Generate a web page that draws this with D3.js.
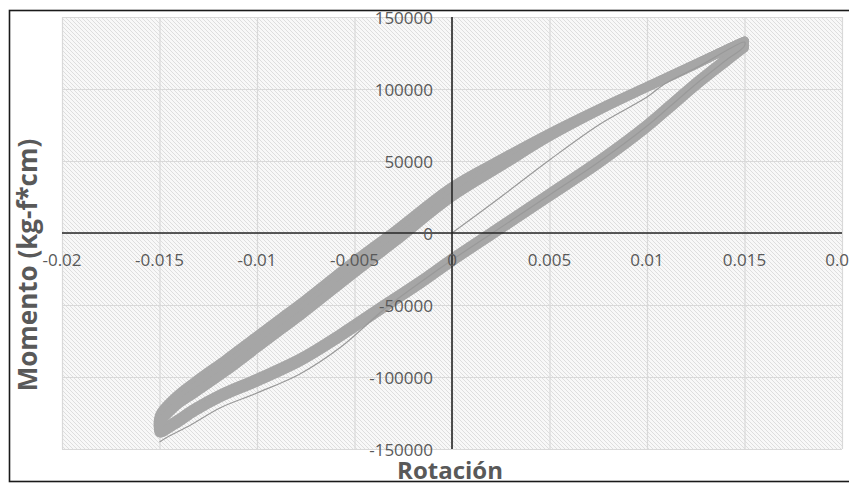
<!DOCTYPE html>
<html>
<head>
<meta charset="utf-8">
<script src="https://cdn.jsdelivr.net/npm/d3@7"></script>
<style>
  html, body { margin: 0; padding: 0; background: #ffffff; }
  svg { display: block; }
</style>
</head>
<body>
<svg id="chart" width="849" height="484"></svg>
<script>
// ---------------- DATA ----------------
const xTicks = [-0.02, -0.015, -0.01, -0.005, 0, 0.005, 0.01, 0.015, 0.02];
const xTickLabels = ["-0.02", "-0.015", "-0.01", "-0.005", "0", "0.005", "0.01", "0.015", "0.02"];
const yTicks = [-150000, -100000, -50000, 0, 50000, 100000, 150000];
const yTickLabels = ["-150000", "-100000", "-50000", "0", "50000", "100000", "150000"];

const xTitle = "Rotación";
const yTitle = "Momento (kg-f*cm)";

// Loading branches (negative peak -> positive peak), three repeated cycles
const loadRot = [-0.015, -0.0142, -0.0132, -0.0116, -0.01, -0.0087, -0.0078, -0.005, -0.0029, 0, 0.0025, 0.005, 0.0076, 0.01, 0.0122, 0.014, 0.015];
const loadM1 = [-126400, -113900, -103100, -87500, -71200, -58000, -49000, -19100, 2100, 32300, 51400, 69500, 86800, 101800, 115700, 127100, 133300];
const loadM2 = [-129900, -117400, -107300, -92000, -75700, -62500, -53500, -23600, -2100, 28500, 48600, 68100, 86100, 101400, 115300, 127100, 133300];
const loadM3 = [-133400, -120900, -111500, -96500, -80200, -67000, -58000, -28100, -6300, 24700, 45800, 66700, 85400, 101000, 115000, 127100, 133300];

// Unloading branches (positive peak -> negative peak)
const unloadRot = [0.015, 0.014, 0.0127, 0.0112, 0.01, 0.0076, 0.005, 0.003, 0, -0.0016, -0.0034, -0.0057, -0.0078, -0.01, -0.0119, -0.0132, -0.0142, -0.015];
const unloadM1 = [131300, 120800, 106900, 89600, 75700, 51400, 27800, 9700, -17300, -32600, -48600, -69400, -86800, -100700, -111800, -121500, -130500, -136100];
const unloadM2 = [129900, 119400, 105500, 88200, 74300, 50000, 26400, 8300, -18700, -34000, -50000, -70800, -88200, -102100, -113200, -122900, -131900, -137500];
const unloadM3 = [128500, 118000, 104100, 86800, 72900, 48600, 25000, 6900, -20100, -35400, -51400, -72200, -89600, -103500, -114600, -124300, -133300, -138900];

// First (virgin) cycle: origin -> positive peak -> negative peak
const firstRot = [0, 0.0025, 0.005, 0.0076, 0.01, 0.0109, 0.0127, 0.015, 0.015, 0.014, 0.0127, 0.0112, 0.01, 0.0076, 0.005, 0.003, 0, -0.0016, -0.0034, -0.0057, -0.0078, -0.01, -0.0119, -0.0134, -0.0145, -0.015];
const firstM = [0, 25000, 50700, 75700, 94400, 103500, 116000, 132600, 129900, 119400, 105500, 88200, 74300, 50000, 26400, 8300, -18700, -34000, -52100, -79200, -97900, -111100, -121500, -133300, -141000, -145100];

// ---------------- LAYOUT ----------------
const svg = d3.select("#chart");
const plot = { left: 62, right: 842, top: 17, bottom: 449 };
const x = d3.scaleLinear().domain([-0.02, 0.02]).range([plot.left, plot.right]);
const y = d3.scaleLinear().domain([-150000, 150000]).range([plot.bottom, plot.top]);

const textColor = "#595959";
const font = "'Open Sans', 'Liberation Sans', sans-serif";

// outer border
svg.append("rect")
  .attr("x", 9.5).attr("y", 10.5)
  .attr("width", 846).attr("height", 471)
  .attr("fill", "#ffffff")
  .attr("stroke", "#1a1a1a").attr("stroke-width", 1.6);

// hatch pattern
const defs = svg.append("defs");
const pat = defs.append("pattern")
  .attr("id", "hatch").attr("patternUnits", "userSpaceOnUse")
  .attr("width", 4).attr("height", 4);
pat.append("rect").attr("width", 4).attr("height", 4).attr("fill", "#f8f8f8");
pat.append("path")
  .attr("d", "M0,0 L4,4 M-1,3 L1,5 M3,-1 L5,1")
  .attr("stroke", "#dedede").attr("stroke-width", 1);

svg.append("rect")
  .attr("x", plot.left).attr("y", plot.top)
  .attr("width", plot.right - plot.left).attr("height", plot.bottom - plot.top)
  .attr("fill", "url(#hatch)");

// gridlines via axes
svg.append("g")
  .attr("transform", `translate(0,${plot.bottom})`)
  .call(d3.axisBottom(x).tickValues(xTicks).tickSize(-(plot.bottom - plot.top)).tickFormat(""))
  .call(g => g.select(".domain").remove())
  .call(g => g.selectAll(".tick line").attr("stroke", "#d9d9d9").attr("stroke-width", 1.2));

svg.append("g")
  .attr("transform", `translate(${plot.left},0)`)
  .call(d3.axisLeft(y).tickValues(yTicks).tickSize(-(plot.right - plot.left)).tickFormat(""))
  .call(g => g.select(".domain").remove())
  .call(g => g.selectAll(".tick line").attr("stroke", "#d9d9d9").attr("stroke-width", 1.2));

// data series
const line = d3.line().x(d => x(d[0])).y(d => y(d[1])).curve(d3.curveCatmullRom.alpha(0.5));
const zip = (a, b) => a.map((v, i) => [v, b[i]]);

const cycles = [
  zip(unloadRot, unloadM1).concat(zip(loadRot, loadM1)),
  zip(unloadRot, unloadM2).concat(zip(loadRot, loadM2)),
  zip(unloadRot, unloadM3).concat(zip(loadRot, loadM3))
];

svg.append("g").selectAll("path.cycle")
  .data(cycles).join("path")
  .attr("class", "cycle")
  .attr("d", d => line(d))
  .attr("fill", "none")
  .attr("stroke", "#a6a6a6")
  .attr("stroke-width", 9)
  .attr("stroke-linejoin", "round")
  .attr("stroke-linecap", "round");

svg.append("path")
  .datum(zip(firstRot, firstM))
  .attr("d", line)
  .attr("fill", "none")
  .attr("stroke", "#999999")
  .attr("stroke-width", 1.2);

// axes lines through zero
svg.append("line")
  .attr("x1", plot.left).attr("x2", plot.right)
  .attr("y1", y(0)).attr("y2", y(0))
  .attr("stroke", "#262626").attr("stroke-width", 1.6);
svg.append("line")
  .attr("x1", x(0)).attr("x2", x(0))
  .attr("y1", plot.top).attr("y2", plot.bottom)
  .attr("stroke", "#262626").attr("stroke-width", 1.6);

// tick labels
svg.append("g").selectAll("text")
  .data(xTicks).join("text")
  .attr("x", d => x(d)).attr("y", y(0) + 33)
  .attr("text-anchor", "middle")
  .attr("font-family", font).attr("font-size", 17)
  .attr("fill", textColor)
  .text((d, i) => xTickLabels[i]);

svg.append("g").selectAll("text")
  .data(yTicks).join("text")
  .attr("x", x(0) - 19).attr("y", d => y(d) + 7)
  .attr("text-anchor", "end")
  .attr("font-family", font).attr("font-size", 17)
  .attr("fill", textColor)
  .text((d, i) => yTickLabels[i]);

// titles
svg.append("text")
  .attr("x", 450).attr("y", 479)
  .attr("text-anchor", "middle")
  .attr("font-family", font).attr("font-size", 24).attr("font-weight", "bold")
  .attr("fill", textColor)
  .text(xTitle);

svg.append("text")
  .attr("transform", "translate(37,265) rotate(-90)")
  .attr("text-anchor", "middle")
  .attr("font-family", font).attr("font-size", 26).attr("font-weight", "bold")
  .attr("fill", textColor)
  .text(yTitle);
</script>
</body>
</html>
